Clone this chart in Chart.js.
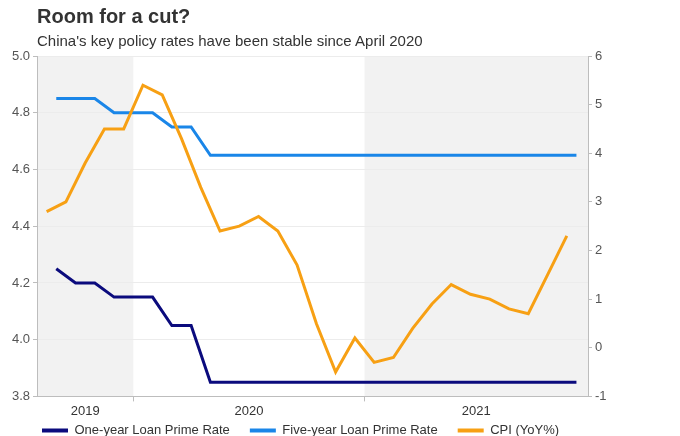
<!DOCTYPE html>
<html>
<head>
<meta charset="utf-8">
<script src="https://cdn.jsdelivr.net/npm/chart.js@4.4.0/dist/chart.umd.min.js"></script>
<style>
  html, body { margin: 0; padding: 0; background: #fff; }
  #wrap { position: relative; width: 680px; height: 436px; font-family: 'Liberation Sans', Arial, sans-serif; color: #333; }
  #title { position: absolute; left: 37px; top: 6px; font-size: 20px; line-height: 20px; font-weight: bold; }
  #subtitle { position: absolute; left: 37px; top: 33px; font-size: 15px; line-height: 15px; }
  canvas { position: absolute; left: 0; top: 0; }
</style>
</head>
<body>
<div id="wrap">
  <canvas id="chart" width="680" height="436"></canvas>
  <div id="title">Room for a cut?</div>
  <div id="subtitle">China's key policy rates have been stable since April 2020</div>
</div>
<script>
// monthly observations, Aug 2019 .. Nov 2021
const months = [
  '2019-08', '2019-09', '2019-10', '2019-11', '2019-12',
  '2020-01', '2020-02', '2020-03', '2020-04', '2020-05', '2020-06',
  '2020-07', '2020-08', '2020-09', '2020-10', '2020-11', '2020-12',
  '2021-01', '2021-02', '2021-03', '2021-04', '2021-05', '2021-06',
  '2021-07', '2021-08', '2021-09', '2021-10', '2021-11',
]
const oneYearLpr = [
  4.25, 4.20, 4.20, 4.15, 4.15,
  4.15, 4.05, 4.05, 3.85, 3.85, 3.85, 3.85, 3.85, 3.85, 3.85, 3.85, 3.85,
  3.85, 3.85, 3.85, 3.85, 3.85, 3.85, 3.85, 3.85, 3.85, 3.85, 3.85,
]
const fiveYearLpr = [
  4.85, 4.85, 4.85, 4.80, 4.80,
  4.80, 4.75, 4.75, 4.65, 4.65, 4.65, 4.65, 4.65, 4.65, 4.65, 4.65, 4.65,
  4.65, 4.65, 4.65, 4.65, 4.65, 4.65, 4.65, 4.65, 4.65, 4.65, 4.65,
]
const cpi = [
  2.8, 3.0, 3.8, 4.5, 4.5,
  5.4, 5.2, 4.3, 3.3, 2.4, 2.5, 2.7, 2.4, 1.7, 0.5, -0.5, 0.2,
  -0.3, -0.2, 0.4, 0.9, 1.3, 1.1, 1.0, 0.8, 0.7, 1.5, 2.3,
]
const years = ['2019', '2020', '2021']
// x axis is in months counted from 1 Aug 2019
const yearEdges = [0, 5, 17, 28.6]

const NAVY = '#0b0b7d'
const BLUE = '#1a86e8'
const ORANGE = '#f7a014'
const GRID = '#ececec'
const AXIS = '#bdbdbd'

Chart.defaults.font.family = "'Liberation Sans', Arial, sans-serif"
Chart.defaults.font.size = 13

function monthPos(ym, offset) {
  const [y, m] = ym.split('-').map(Number)
  return (y - 2019) * 12 + (m - 8) + offset
}

// lpr plotted at month end, cpi mid-month
function series(values, offset) {
  return months.map((m, i) => ({ x: monthPos(m, offset), y: values[i] }))
}

function line(color, label, data, axis, order) {
  return {
    label, data, order,
    yAxisID: axis,
    borderColor: color,
    backgroundColor: color,
    borderWidth: 3,
    pointRadius: 0,
    tension: 0,
    fill: false,
  }
}

// year labels centred in each band, tick marks on the band edges
const xTicks = []
years.forEach((yr, i) => {
  xTicks.push({ value: (yearEdges[i] + yearEdges[i + 1]) / 2, label: yr, mark: false })
  if (i < years.length - 1) xTicks.push({ value: yearEdges[i + 1], label: '', mark: true })
})

const bands = {
  id: 'bands',
  beforeDraw(chart) {
    const { ctx, chartArea: a, scales: { x } } = chart
    ctx.save()
    years.forEach((yr, i) => {
      if (i % 2 === 1) return
      const l = x.getPixelForValue(yearEdges[i])
      const r = x.getPixelForValue(yearEdges[i + 1])
      ctx.fillStyle = '#f2f2f2'
      ctx.fillRect(l, a.top, r - l, a.bottom - a.top)
    })
    ctx.restore()
  },
}

// legend sits under the plot, indented and tighter than the default box
const legendShift = {
  id: 'legendShift',
  afterLayout(chart) {
    const lg = chart.legend
    lg.left += 22
    lg.top -= 17
    lg.bottom -= 17
  },
}

new Chart(document.getElementById('chart'), {
  type: 'line',
  data: { datasets: [
    line(NAVY,   'One-year Loan Prime Rate',  series(oneYearLpr, 1),  'y',  1),
    line(BLUE,   'Five-year Loan Prime Rate', series(fiveYearLpr, 1), 'y',  2),
    line(ORANGE, 'CPI (YoY%)',                series(cpi, 0.5),       'y2', 0),
  ]},
  options: {
    responsive: false,
    animation: false,
    devicePixelRatio: 1,
    layout: { padding: { left: 0, right: 0, top: 56, bottom: -28 } },
    plugins: {
      tooltip: { enabled: false },
      legend: {
        position: 'bottom',
        align: 'start',
        labels: {
          boxWidth: 26,
          boxHeight: 4,
          padding: 20,
          color: '#333',
          sort: (a, b) => a.datasetIndex - b.datasetIndex,
          generateLabels: chart =>
            Chart.defaults.plugins.legend.labels.generateLabels(chart)
              .map(l => ({ ...l, fillStyle: l.strokeStyle, lineWidth: 0 })),
        },
      },
    },
    scales: {
      x: {
        type: 'linear',
        min: yearEdges[0],
        max: yearEdges[yearEdges.length - 1],
        afterBuildTicks: s => { s.ticks = xTicks.map(t => ({ value: t.value })) },
        ticks: {
          autoSkip: false,
          maxRotation: 0,
          color: '#333',
          padding: 2,
          callback: (v, i) => xTicks[i].label,
        },
        grid: {
          drawOnChartArea: false,
          tickLength: 5,
          tickColor: c => (xTicks[c.index] && xTicks[c.index].mark) ? AXIS : 'rgba(0,0,0,0)',
        },
        border: { color: AXIS },
      },
      y: {
        position: 'left',
        min: 3.8,
        max: 5.0,
        ticks: { stepSize: 0.2, color: '#555', padding: 3, callback: v => v.toFixed(1) },
        grid: { color: GRID, tickColor: AXIS, tickLength: 4 },
        border: { color: AXIS },
        afterFit: s => { s.width = 37 },
      },
      y2: {
        position: 'right',
        min: -1,
        max: 6,
        ticks: { stepSize: 1, color: '#555', padding: 3 },
        grid: { drawOnChartArea: false, tickColor: AXIS, tickLength: 4 },
        border: { color: AXIS },
        afterFit: s => { s.width = 92 },
      },
    },
  },
  plugins: [bands, legendShift],
})
</script>
</body>
</html>
